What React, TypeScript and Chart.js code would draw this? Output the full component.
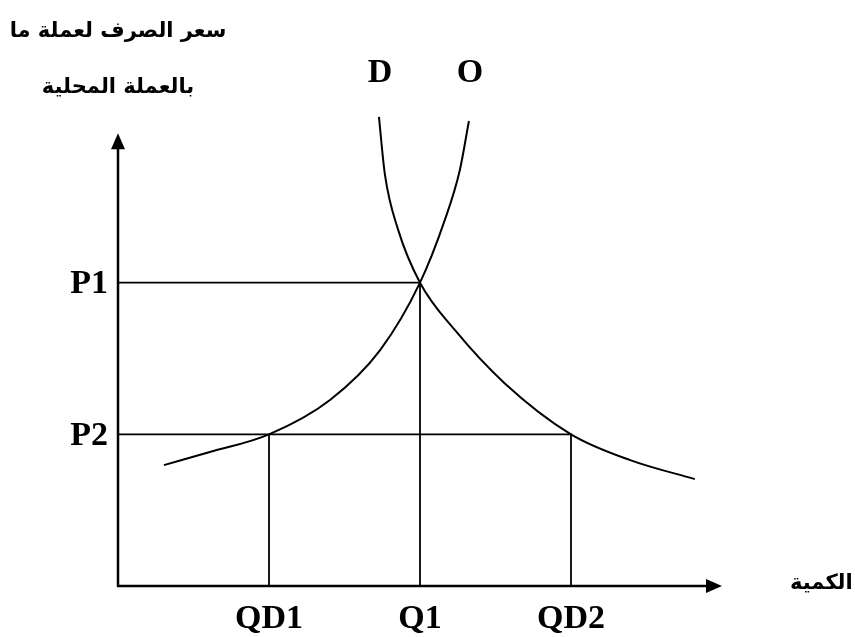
import React, { useEffect, useRef } from "react";
import { Chart, registerables } from "chart.js";

Chart.register(...registerables);

// Quantity positions of the marked equilibrium points
const quantityTicks = [25, 50, 75];
const quantityLabels = ["QD1", "Q1", "QD2"];

// Price levels of the two marked exchange rates
const priceTicks = [67, 33.5];
const priceLabels = ["P1", "P2"];

// Demand curve D
const demandQ = [43.2, 44.2, 46.4, 50, 55.8, 64.0, 75, 84.8, 95.5];
const demandP = [103.6, 90.8, 78.6, 67, 56.5, 44.8, 33.5, 27.8, 23.6];

// Supply curve O
const supplyQ = [7.6, 15.2, 25, 35.1, 43.4, 50, 54.1, 56.6, 58.1];
const supplyP = [26.7, 29.6, 33.5, 41.1, 52.1, 67, 80.8, 91.9, 102.7];

const curveNames = ["D", "O"];
const yTitleLines = ["سعر الصرف لعملة ما", "بالعملة المحلية"];
const xTitle = "الكمية";

const axisEndQ = 100;
const axisEndP = 100;

const latinFont = "bold 34px 'Liberation Serif', serif";
const arabicFont = "bold 21px 'DejaVu Sans', sans-serif";

const zip = (xs: number[], ys: number[]) => xs.map((x, i) => ({ x, y: ys[i] }));

const diagramPlugin = {
  id: "diagramAxes",
  afterDatasetsDraw(chart: any) {
    const ctx = chart.ctx;
    const xs = chart.scales.x;
    const ys = chart.scales.y;
    const x0 = xs.getPixelForValue(0);
    const y0 = ys.getPixelForValue(0);
    const xEnd = xs.getPixelForValue(axisEndQ);
    const yEnd = ys.getPixelForValue(axisEndP);

    ctx.save();
    ctx.strokeStyle = "#000";
    ctx.fillStyle = "#000";
    ctx.lineWidth = 2.5;
    ctx.lineCap = "butt";
    // axes
    ctx.beginPath();
    ctx.moveTo(x0, yEnd + 14);
    ctx.lineTo(x0, y0);
    ctx.lineTo(xEnd - 14, y0);
    ctx.stroke();
    // arrow heads
    ctx.beginPath();
    ctx.moveTo(x0, yEnd);
    ctx.lineTo(x0 - 7, yEnd + 16);
    ctx.lineTo(x0 + 7, yEnd + 16);
    ctx.closePath();
    ctx.fill();
    ctx.beginPath();
    ctx.moveTo(xEnd, y0);
    ctx.lineTo(xEnd - 16, y0 - 7);
    ctx.lineTo(xEnd - 16, y0 + 7);
    ctx.closePath();
    ctx.fill();

    // tick labels
    ctx.font = latinFont;
    ctx.textBaseline = "middle";
    ctx.textAlign = "right";
    priceTicks.forEach((p, i) => {
      ctx.fillText(priceLabels[i], x0 - 10, ys.getPixelForValue(p) + 2);
    });
    ctx.textAlign = "center";
    quantityTicks.forEach((q, i) => {
      ctx.fillText(quantityLabels[i], xs.getPixelForValue(q), y0 + 33);
    });

    // curve names above their top ends
    const tops = [demandQ[0], supplyQ[supplyQ.length - 1]];
    tops.forEach((q, i) => {
      ctx.fillText(curveNames[i], xs.getPixelForValue(q) + 1, yEnd - 60);
    });

    // axis titles
    ctx.font = arabicFont;
    ctx.direction = "rtl";
    ctx.textAlign = "center";
    ctx.fillText(yTitleLines[0], x0, yEnd - 102);
    ctx.fillText(yTitleLines[1], x0, yEnd - 46);
    ctx.textAlign = "left";
    ctx.direction = "ltr";
    ctx.fillText(xTitle, xEnd + 68, y0 - 2);
    ctx.restore();
  },
};

export default function App() {
  const ref = useRef<HTMLCanvasElement | null>(null);

  useEffect(() => {
    document.body.style.margin = "0";
    const canvas = ref.current;
    if (!canvas) return;

    const guide = {
      borderColor: "#000",
      borderWidth: 1.8,
      pointRadius: 0,
      showLine: true,
      tension: 0,
    };
    const curve = {
      borderColor: "#000",
      borderWidth: 2,
      pointRadius: 0,
      showLine: true,
      cubicInterpolationMode: "monotone" as const,
    };

    const chart = new Chart(canvas, {
      type: "scatter",
      data: {
        datasets: [
          {
            ...guide,
            data: [
              { x: 0, y: priceTicks[0] },
              { x: quantityTicks[1], y: priceTicks[0] },
              { x: quantityTicks[1], y: 0 },
            ],
          },
          {
            ...guide,
            data: [
              { x: 0, y: priceTicks[1] },
              { x: quantityTicks[2], y: priceTicks[1] },
              { x: quantityTicks[2], y: 0 },
            ],
          },
          {
            ...guide,
            data: [
              { x: quantityTicks[0], y: priceTicks[1] },
              { x: quantityTicks[0], y: 0 },
            ],
          },
          { ...curve, label: curveNames[0], data: zip(demandQ, demandP) },
          { ...curve, label: curveNames[1], data: zip(supplyQ, supplyP) },
        ],
      },
      options: {
        responsive: false,
        animation: false,
        layout: { padding: { left: 118, right: 133, top: 88, bottom: 51 } },
        scales: {
          x: { type: "linear", min: 0, max: 100, display: false },
          y: { type: "linear", min: 0, max: 110, display: false },
        },
        plugins: {
          legend: { display: false },
          tooltip: { enabled: false },
        },
      },
      plugins: [diagramPlugin],
    });

    return () => chart.destroy();
  }, []);

  return (
    <div style={{ width: 855, height: 637, background: "#fff" }}>
      <canvas ref={ref} width={855} height={637} style={{ display: "block" }} />
    </div>
  );
}
